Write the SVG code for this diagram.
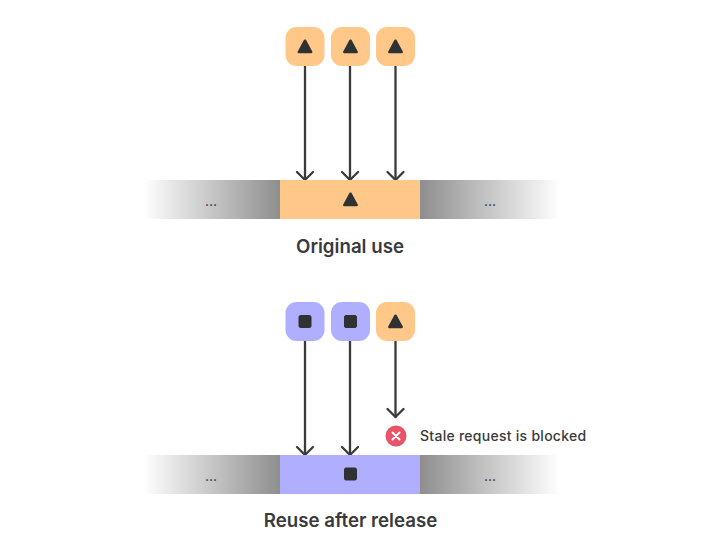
<svg xmlns="http://www.w3.org/2000/svg" width="728" height="554" viewBox="0 0 728 554">
<style>
.o{fill:#ffc888}.p{fill:#b0aeff}
.g{fill:#2f3133;stroke:#2f3133;stroke-width:2.5;stroke-linejoin:round}
.s{fill:#2f3133;stroke:#2f3133;stroke-width:1;stroke-linejoin:round}
.c{fill:none;stroke:#3a3a3c;stroke-width:2.3;stroke-linecap:round;stroke-linejoin:round}
text{font-family:Inter,"Liberation Sans",sans-serif;fill:#3a3a3c}
.t{font-size:18.700px;font-weight:600;text-anchor:middle}
.d{font-size:14px;text-anchor:middle;fill:#2f3133}
.n{font-size:14px;font-weight:500;letter-spacing:.27px}
</style>
<defs>
<linearGradient id="gl" x1="0" x2="1" y1="0" y2="0"><stop offset="0" stop-color="#fff"/><stop offset="1" stop-color="#8e8e8e"/></linearGradient>
<linearGradient id="gr" x1="0" x2="1" y1="0" y2="0"><stop offset="0" stop-color="#8e8e8e"/><stop offset="1" stop-color="#fff"/></linearGradient>
<path id="tri" class="g" d="M0-6.300L6.200 5H-6.200Z"/>
<path id="arr" class="c" d="M-8-8L0 0L8-8"/>
</defs>
<g id="connectors">
<path class="c" d="M305 66V180M350 66V180M395.500 66V180"/>
<use href="#arr" x="305" y="180"/><use href="#arr" x="350" y="180"/><use href="#arr" x="395.500" y="180"/>
<path class="c" d="M305 341V455M350 341V455M395.500 341V417"/>
<use href="#arr" x="305" y="455"/><use href="#arr" x="350" y="455"/><use href="#arr" x="395.500" y="417"/>
</g>
<g id="top-1"><rect class="o" x="285.500" y="27" width="39" height="39" rx="11"/><use href="#tri" x="305" y="47"/></g>
<g id="top-2"><rect class="o" x="331" y="27" width="39" height="39" rx="11"/><use href="#tri" x="350.500" y="47"/></g>
<g id="top-3"><rect class="o" x="376" y="27" width="39" height="39" rx="11"/><use href="#tri" x="395.500" y="47"/></g>
<g id="bar-original">
<rect x="143" y="180" width="137" height="39" fill="url(#gl)"/>
<rect class="o" x="280" y="180" width="140" height="39"/>
<rect x="420" y="180" width="140" height="39" fill="url(#gr)"/>
<text class="d" x="211" y="206">...</text><text class="d" x="490" y="206">...</text>
<use href="#tri" x="350.500" y="200"/>
</g>
<text class="t" x="350" y="253">Original use</text>
<g id="bot-1"><rect class="p" x="285.500" y="302" width="39" height="39" rx="11"/><rect class="s" x="299" y="315.500" width="12" height="12" rx="1.500"/></g>
<g id="bot-2"><rect class="p" x="331" y="302" width="39" height="39" rx="11"/><rect class="s" x="344.500" y="315.500" width="12" height="12" rx="1.500"/></g>
<g id="bot-3"><rect class="o" x="376" y="302" width="39" height="39" rx="11"/><use href="#tri" x="395.500" y="322"/></g>
<g id="blocked">
<circle cx="396" cy="436" r="10.500" fill="#e85468"/>
<path d="M392.500 432.500L399.500 439.500M399.500 432.500L392.500 439.500" fill="none" stroke="#fff" stroke-width="2" stroke-linecap="round"/>
<text class="n" x="420" y="441">Stale request is blocked</text>
</g>
<g id="bar-reuse">
<rect x="143" y="455" width="137" height="39" fill="url(#gl)"/>
<rect class="p" x="280" y="455" width="140" height="39"/>
<rect x="420" y="455" width="140" height="39" fill="url(#gr)"/>
<text class="d" x="211" y="481">...</text><text class="d" x="490" y="481">...</text>
<rect class="s" x="344.500" y="468" width="12" height="12" rx="1.500"/>
</g>
<text class="t" x="350.500" y="527">Reuse after release</text>
</svg>
